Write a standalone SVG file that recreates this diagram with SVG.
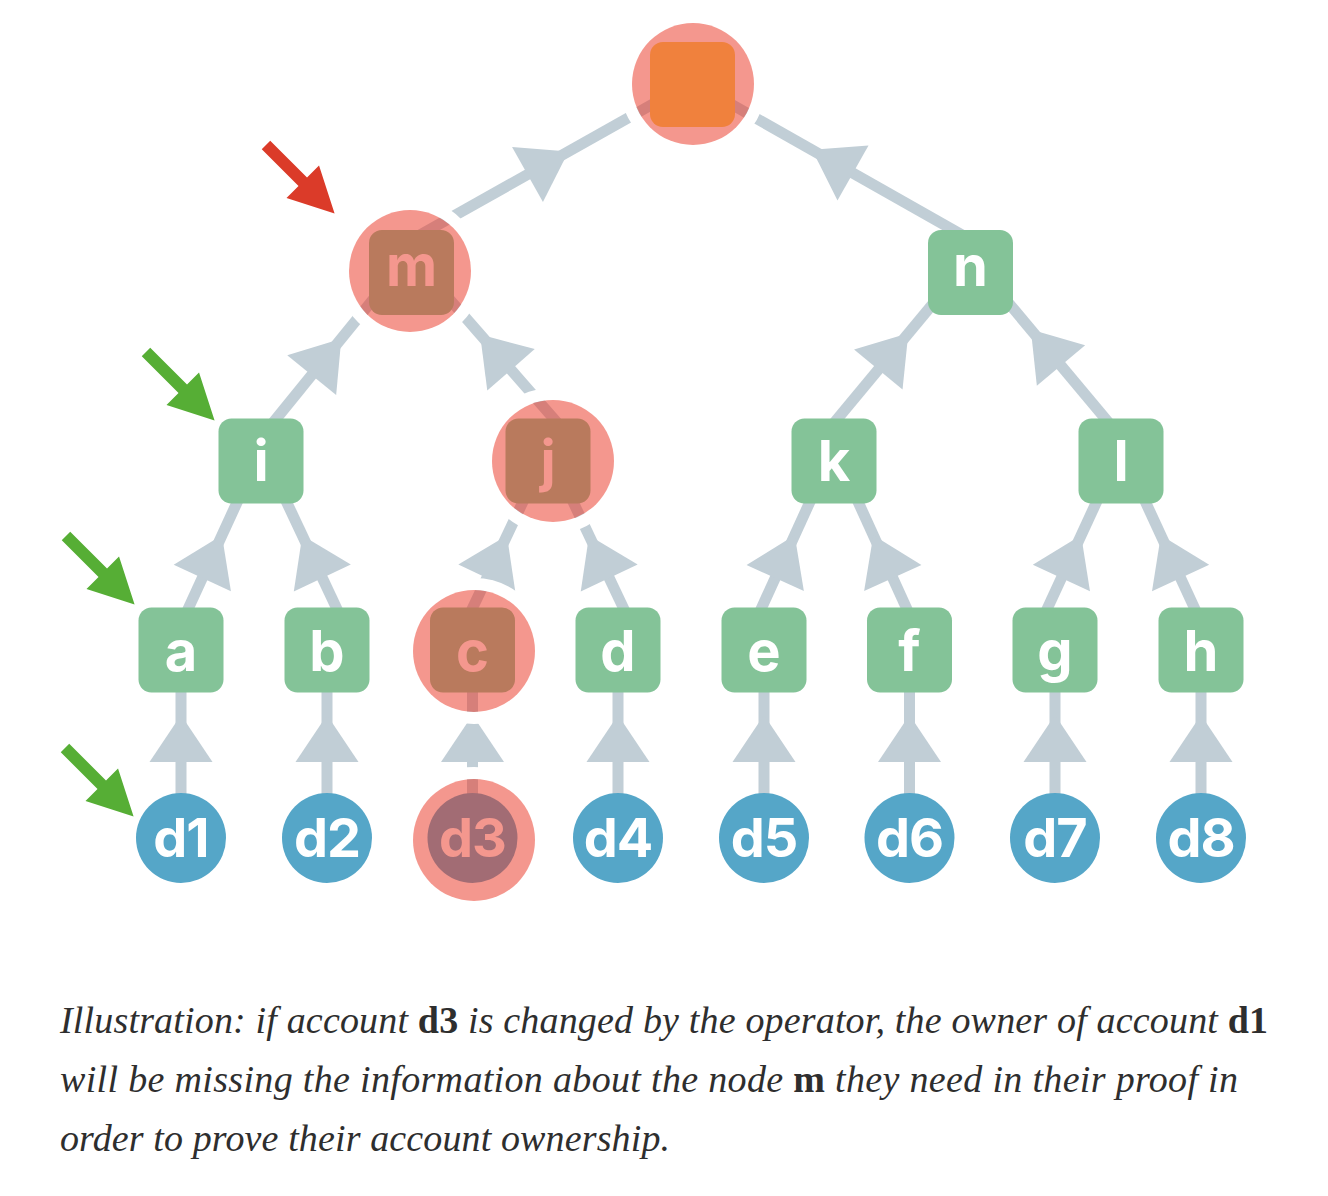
<svg xmlns="http://www.w3.org/2000/svg" width="1328" height="1196" viewBox="0 0 1328 1196">
<defs>
<path id="ah" d="M0,-31.5 L47,0 L0,31.5 Z"/>
<path id="ptr" d="M0,-6 L52,-6 L52,-23 L97,0 L52,23 L52,6 L0,6 Z"/>
</defs>
<style>
.ln{stroke:#C1CED6;stroke-width:11;fill:none}
.ar{fill:#C1CED6}
.bx{fill:#84C398}
.lf{fill:#55A6C8}
.lb{font-family:Inter,"DejaVu Sans",sans-serif;font-weight:700;font-size:56px;fill:#fff;text-anchor:middle}
.dl{font-size:54px;letter-spacing:-1px}
.ring{fill:none;stroke:#fff;stroke-width:12}
.hl{fill:rgb(234,55,38);fill-opacity:0.52}
.cap{font-family:"Liberation Serif",serif;font-style:italic;font-size:38px;fill:#2e2e2e}
.b{font-weight:700;font-style:normal}
</style>
<rect width="1328" height="1196" fill="#fff"/>
<g id="connectors">
<path class="ln" d="M411,240 L692,82"/>
<path class="ln" d="M971,240 L692,82"/>
<path class="ln" d="M263,435 L410,254"/>
<path class="ln" d="M568,435 L410,254"/>
<path class="ln" d="M824,435 L971,258"/>
<path class="ln" d="M1119,435 L971,258"/>
<path class="ln" d="M180.7,625 L261.6,449"/>
<path class="ln" d="M344.5,625 L261.6,449"/>
<path class="ln" d="M464.5,625 L548,449"/>
<path class="ln" d="M631.5,625 L548,449"/>
<path class="ln" d="M753.8,625 L834,449"/>
<path class="ln" d="M914.2,625 L834,449"/>
<path class="ln" d="M1039.7,625 L1121,449"/>
<path class="ln" d="M1202.3,625 L1121,449"/>
<path class="ln" d="M181,795 V650"/>
<path class="ln" d="M327,795 V650"/>
<path class="ln" d="M472.5,795 V650"/>
<path class="ln" d="M618,795 V650"/>
<path class="ln" d="M764,795 V650"/>
<path class="ln" d="M909.5,795 V650"/>
<path class="ln" d="M1055,795 V650"/>
<path class="ln" d="M1201,795 V650"/>
<use href="#ah" class="ar" transform="translate(527.5,174.5) rotate(-29.35)"/>
<use href="#ah" class="ar" transform="translate(853,173) rotate(-150.5)"/>
<use href="#ah" class="ar" transform="translate(311.7,375.2) rotate(-50.96)"/>
<use href="#ah" class="ar" transform="translate(511,369.8) rotate(-131.1)"/>
<use href="#ah" class="ar" transform="translate(878.3,369.5) rotate(-50.3)"/>
<use href="#ah" class="ar" transform="translate(1061,365.5) rotate(-129.95)"/>
<use href="#ah" class="ar" transform="translate(202.3,578) rotate(-65.3)"/>
<use href="#ah" class="ar" transform="translate(322.3,578) rotate(-115.2)"/>
<use href="#ah" class="ar" transform="translate(486.8,578) rotate(-64.6)"/>
<use href="#ah" class="ar" transform="translate(609.2,578) rotate(-115.4)"/>
<use href="#ah" class="ar" transform="translate(775.2,578) rotate(-65.5)"/>
<use href="#ah" class="ar" transform="translate(892.8,578) rotate(-114.5)"/>
<use href="#ah" class="ar" transform="translate(1061.4,578) rotate(-65.2)"/>
<use href="#ah" class="ar" transform="translate(1180.6,578) rotate(-114.8)"/>
<use href="#ah" class="ar" transform="translate(181,762) rotate(-90)"/>
<use href="#ah" class="ar" transform="translate(327,762) rotate(-90)"/>
<use href="#ah" class="ar" transform="translate(472.5,762) rotate(-90)"/>
<use href="#ah" class="ar" transform="translate(618,762) rotate(-90)"/>
<use href="#ah" class="ar" transform="translate(764,762) rotate(-90)"/>
<use href="#ah" class="ar" transform="translate(909.5,762) rotate(-90)"/>
<use href="#ah" class="ar" transform="translate(1055,762) rotate(-90)"/>
<use href="#ah" class="ar" transform="translate(1201,762) rotate(-90)"/>
</g>
<g id="node-root">
<rect x="650" y="42" width="85" height="85" rx="13" fill="#F6D156"/>
<circle class="ring" cx="693" cy="84" r="67"/>
<circle class="hl" cx="693" cy="84" r="61"/>
</g>
<g id="node-m">
<rect class="bx" x="369" y="230" width="85" height="85" rx="13"/>
<text class="lb" x="411.5" y="286">m</text>
<circle class="ring" cx="410" cy="271" r="67"/>
<circle class="hl" cx="410" cy="271" r="61"/>
</g>
<g id="node-n">
<rect class="bx" x="928" y="230" width="85" height="85" rx="13"/>
<text class="lb" x="970.5" y="286">n</text>
</g>
<g id="node-i">
<rect class="bx" x="218.5" y="418.5" width="85" height="85" rx="13"/>
<text class="lb" x="261" y="481">i</text>
</g>
<g id="node-j">
<rect class="bx" x="505.5" y="418.5" width="85" height="85" rx="13"/>
<text class="lb" x="548" y="481">j</text>
<circle class="ring" cx="553" cy="461" r="67"/>
<circle class="hl" cx="553" cy="461" r="61"/>
</g>
<g id="node-k">
<rect class="bx" x="791.5" y="418.5" width="85" height="85" rx="13"/>
<text class="lb" x="834" y="481">k</text>
</g>
<g id="node-l">
<rect class="bx" x="1078.5" y="418.5" width="85" height="85" rx="13"/>
<text class="lb" x="1121" y="481">l</text>
</g>
<g id="node-a">
<rect class="bx" x="138.5" y="607.5" width="85" height="85" rx="13"/>
<text class="lb" x="181" y="671">a</text>
</g>
<g id="node-b">
<rect class="bx" x="284.5" y="607.5" width="85" height="85" rx="13"/>
<text class="lb" x="327" y="671">b</text>
</g>
<g id="node-c">
<rect class="bx" x="430" y="607.5" width="85" height="85" rx="13"/>
<text class="lb" x="472.5" y="671">c</text>
<circle class="ring" cx="474" cy="651" r="67"/>
<circle class="hl" cx="474" cy="651" r="61"/>
</g>
<g id="node-d">
<rect class="bx" x="575.5" y="607.5" width="85" height="85" rx="13"/>
<text class="lb" x="618" y="671">d</text>
</g>
<g id="node-e">
<rect class="bx" x="721.5" y="607.5" width="85" height="85" rx="13"/>
<text class="lb" x="764" y="671">e</text>
</g>
<g id="node-f">
<rect class="bx" x="867" y="607.5" width="85" height="85" rx="13"/>
<text class="lb" x="909.5" y="671">f</text>
</g>
<g id="node-g">
<rect class="bx" x="1012.5" y="607.5" width="85" height="85" rx="13"/>
<text class="lb" x="1055" y="671">g</text>
</g>
<g id="node-h">
<rect class="bx" x="1158.5" y="607.5" width="85" height="85" rx="13"/>
<text class="lb" x="1201" y="671">h</text>
</g>
<g id="node-d1">
<circle class="lf" cx="181" cy="838" r="45"/>
<text class="lb dl" x="181" y="857">d1</text>
</g>
<g id="node-d2">
<circle class="lf" cx="327" cy="838" r="45"/>
<text class="lb dl" x="327" y="857">d2</text>
</g>
<g id="node-d3">
<circle class="lf" cx="472.5" cy="838" r="45"/>
<text class="lb dl" x="472.5" y="857">d3</text>
<circle class="ring" cx="474" cy="840" r="67"/>
<circle class="hl" cx="474" cy="840" r="61"/>
</g>
<g id="node-d4">
<circle class="lf" cx="618" cy="838" r="45"/>
<text class="lb dl" x="618" y="857">d4</text>
</g>
<g id="node-d5">
<circle class="lf" cx="764" cy="838" r="45"/>
<text class="lb dl" x="764" y="857">d5</text>
</g>
<g id="node-d6">
<circle class="lf" cx="909.5" cy="838" r="45"/>
<text class="lb dl" x="909.5" y="857">d6</text>
</g>
<g id="node-d7">
<circle class="lf" cx="1055" cy="838" r="45"/>
<text class="lb dl" x="1055" y="857">d7</text>
</g>
<g id="node-d8">
<circle class="lf" cx="1201" cy="838" r="45"/>
<text class="lb dl" x="1201" y="857">d8</text>
</g>
<g id="pointers">
<use href="#ptr" fill="#DB3B29" transform="translate(266,145) rotate(45)"/>
<use href="#ptr" fill="#56AE35" transform="translate(146,352) rotate(45)"/>
<use href="#ptr" fill="#56AE35" transform="translate(66,536) rotate(45)"/>
<use href="#ptr" fill="#56AE35" transform="translate(65,748) rotate(45)"/>
</g>
<g id="caption">
<text class="cap" x="60" y="1033" textLength="1208" lengthAdjust="spacing">Illustration: if account <tspan class="b">d3</tspan> is changed by the operator, the owner of account <tspan class="b">d1</tspan></text>
<text class="cap" x="60" y="1092" textLength="1178" lengthAdjust="spacing">will be missing the information about the node <tspan class="b">m</tspan> they need in their proof in</text>
<text class="cap" x="60" y="1151" textLength="610" lengthAdjust="spacing">order to prove their account ownership.</text>
</g>
</svg>
